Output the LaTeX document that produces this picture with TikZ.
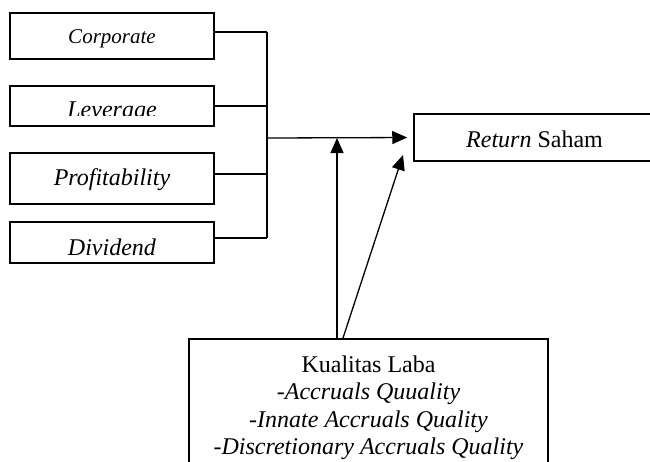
\documentclass[tikz,border=0pt]{standalone}
\usepackage{fontspec}
\setmainfont{Liberation Serif}
\usetikzlibrary{arrows.meta}
\begin{document}
\begin{tikzpicture}[x=1pt,y=-1pt,
  box/.style={draw,line width=1.5pt,inner sep=0pt},
  leftbox/.style={box,minimum width=204pt},
  txt/.style={font=\fontsize{24}{27.5}\selectfont,inner sep=0pt,anchor=base},
  conn/.style={line width=1.3pt},
  arr/.style={line width=1.3pt,-{Triangle[length=15pt,width=13pt]}}]
\useasboundingbox (0,0) rectangle (650,461);
\clip (0,0) rectangle (650,461);
% left boxes
\node[leftbox,minimum height=46pt] (corp) at (112,36) {};
\node[txt,font=\fontsize{21}{24}\selectfont] at (112,43) {\textit{Corporate}};
\node[leftbox,minimum height=40pt] (lev) at (112,106) {};
\begin{scope}
  \clip (11,87) rectangle (213,115.5);
  \node[txt] at (112,117.6) {\textit{Leverage}};
\end{scope}
\node[leftbox,minimum height=51pt] (prof) at (112,178.5) {};
\node[txt] at (112,185) {\textit{Profitability}};
\node[leftbox,minimum height=41pt] (div) at (112,242.5) {};
\node[txt] at (112,255) {\textit{Dividend}};
% right box
\node[box,minimum width=241pt,minimum height=47pt] (ret) at (534.5,137.5) {};
\node[txt] at (534.5,147) {\textit{Return} Saham};
% bottom box
\node[box,minimum width=359pt,minimum height=140pt,anchor=north] (kl) at (368.5,338) {};
\node[txt] at (368.5,372) {Kualitas Laba};
\node[txt] at (368.5,399.5) {\textit{-Accruals Quuality}};
\node[txt] at (368.5,427) {\textit{-Innate Accruals Quality}};
\node[txt] at (368.5,454.5) {\textit{-Discretionary Accruals Quality}};
% bus
\coordinate (b1) at (267,32);
\coordinate (b2) at (267,106);
\coordinate (b3) at (267,174);
\coordinate (b4) at (267,238);
\coordinate (j) at (267,138);
\draw[conn] (corp.east |- b1) -- (b1);
\draw[conn] (lev.east |- b2) -- (b2);
\draw[conn] (prof.east |- b3) -- (b3);
\draw[conn] (div.east |- b4) -- (b4);
\draw[conn] (b1) -- (b4);
\draw[arr,shorten >=6pt] (j) -- (ret.west);
% arrows from bottom box
\coordinate (v1) at (337,338);
\coordinate (v2) at (337,138);
\coordinate (d1) at (343,338);
\coordinate (d2) at (403,155);
\draw[arr] (v1) -- (v2);
\draw[arr] (d1) -- (d2);
\end{tikzpicture}
\end{document}
